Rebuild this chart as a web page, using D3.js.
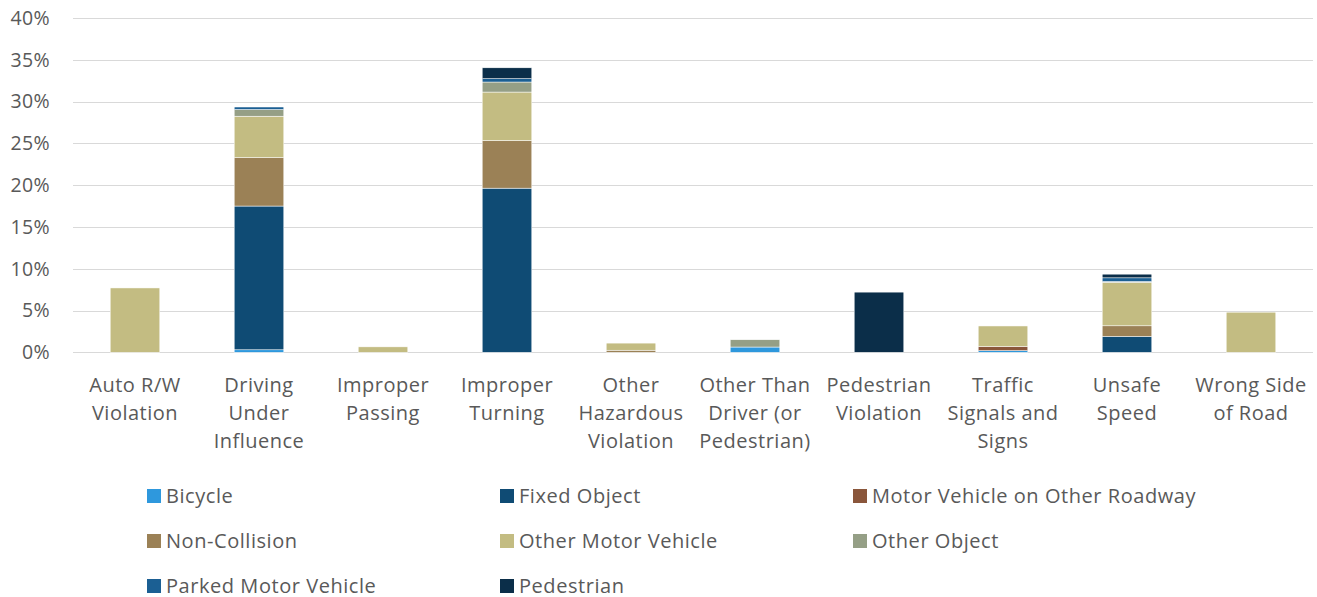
<!DOCTYPE html>
<html>
<head>
<meta charset="utf-8">
<script src="https://cdn.jsdelivr.net/npm/d3@7"></script>
<style>
  body { margin: 0; background: #fff; }
  svg { display: block; font-family: "Open Sans", sans-serif; }
</style>
</head>
<body>
<svg id="chart"></svg>
<script>
// categories (label lines split by "|")
const categories = [
  "Auto R/W|Violation", "Driving|Under|Influence", "Improper|Passing", "Improper|Turning",
  "Other|Hazardous|Violation", "Other Than|Driver (or|Pedestrian)", "Pedestrian|Violation",
  "Traffic|Signals and|Signs", "Unsafe|Speed", "Wrong Side|of Road"
];

const seriesNames = [
  "Bicycle", "Fixed Object", "Motor Vehicle on Other Roadway", "Non-Collision",
  "Other Motor Vehicle", "Other Object", "Parked Motor Vehicle", "Pedestrian"
];

// values in percent, one per category
const bicycle            = [0, 0.3, 0, 0, 0, 0.63, 0, 0.2, 0, 0];
const fixedObject        = [0, 17.2, 0, 19.64, 0, 0, 0, 0, 1.9, 0];
const mvOtherRoadway     = [0, 0, 0, 0, 0, 0, 0, 0.5, 0, 0];
const nonCollision       = [0, 5.8, 0, 5.7, 0.25, 0, 0, 0, 1.27, 0];
const otherMotorVehicle  = [7.7, 4.95, 0.65, 5.8, 0.85, 0, 0, 2.45, 5.2, 4.8];
const otherObject        = [0, 0.8, 0, 1.2, 0, 0.87, 0, 0, 0.1, 0];
const parkedMotorVehicle = [0, 0.3, 0, 0.4, 0, 0, 0, 0, 0.44, 0];
const pedestrian         = [0, 0, 0, 1.3, 0, 0, 7.2, 0, 0.44, 0];

const yTicks = [0, 5, 10, 15, 20, 25, 30, 35, 40];

const colors = ["#2e98dd", "#0f4b74", "#8a563b", "#9b8156", "#c3bc82", "#959f86", "#1b5f93", "#0b2e49"];

const width = 1317, height = 597;
const margin = { top: 18, right: 4, bottom: 245, left: 73 };

const seriesValues = [bicycle, fixedObject, mvOtherRoadway, nonCollision,
  otherMotorVehicle, otherObject, parkedMotorVehicle, pedestrian];

const table = categories.map((c, i) => {
  const row = { cat: c };
  seriesNames.forEach((s, j) => { row[s] = seriesValues[j][i]; });
  return row;
});

const stacked = d3.stack().keys(seriesNames)(table);

const svg = d3.select("#chart")
  .attr("width", width)
  .attr("height", height);

const x = d3.scaleBand()
  .domain(categories)
  .range([margin.left, width - margin.right])
  .paddingInner(0.6)
  .paddingOuter(0.3);

const y = d3.scaleLinear()
  .domain([0, 40])
  .range([352.3, margin.top]);

const color = d3.scaleOrdinal().domain(seriesNames).range(colors);

// gridlines
svg.append("g")
  .selectAll("line")
  .data(yTicks)
  .join("line")
    .attr("x1", margin.left)
    .attr("x2", width - margin.right)
    .attr("y1", d => Math.round(y(d)) + 0.5)
    .attr("y2", d => Math.round(y(d)) + 0.5)
    .attr("stroke", "#d9d9d9")
    .attr("stroke-width", 1.2);

// y axis labels
svg.append("g")
  .selectAll("text")
  .data(yTicks)
  .join("text")
    .attr("x", 50)
    .attr("y", d => y(d))
    .attr("dy", "0.35em")
    .attr("text-anchor", "end")
    .attr("fill", "#595959")
    .attr("font-size", 19.5)
    .attr("letter-spacing", 0.4)
    .text(d => d + "%");

// bars
svg.append("g")
  .selectAll("g")
  .data(stacked)
  .join("g")
    .attr("fill", d => color(d.key))
  .selectAll("rect")
  .data(d => d.filter(p => p[1] - p[0] > 0))
  .join("rect")
    .attr("x", d => x(d.data.cat))
    .attr("y", d => y(d[1]))
    .attr("width", x.bandwidth())
    .attr("height", d => y(d[0]) - y(d[1]))
    .attr("stroke", "#ffffff")
    .attr("stroke-width", 0.5);

// category labels
const catLabels = svg.append("g")
  .selectAll("text")
  .data(categories)
  .join("text")
    .attr("x", d => x(d) + x.bandwidth() / 2)
    .attr("y", 385)
    .attr("text-anchor", "middle")
    .attr("fill", "#595959")
    .attr("font-size", 20)
    .attr("letter-spacing", 0.5);

catLabels.selectAll("tspan")
  .data(d => d.split("|"))
  .join("tspan")
    .attr("x", function () { return d3.select(this.parentNode).attr("x"); })
    .attr("y", (d, i) => 385 + i * 28.4)
    .attr("dy", "0.33em")
    .text(d => d);

// legend
const legend = svg.append("g");
const legendItems = legend.selectAll("g")
  .data(seriesNames)
  .join("g")
    .attr("transform", (d, i) => `translate(${147 + (i % 3) * 353}, ${496 + Math.floor(i / 3) * 45})`);

legendItems.append("rect")
  .attr("x", 0)
  .attr("y", -7)
  .attr("width", 14)
  .attr("height", 14)
  .attr("fill", d => color(d));

legendItems.append("text")
  .attr("x", 19)
  .attr("y", 0)
  .attr("dy", "0.35em")
  .attr("fill", "#595959")
  .attr("font-size", 20)
  .attr("letter-spacing", 0.55)
  .text(d => d);
</script>
</body>
</html>
